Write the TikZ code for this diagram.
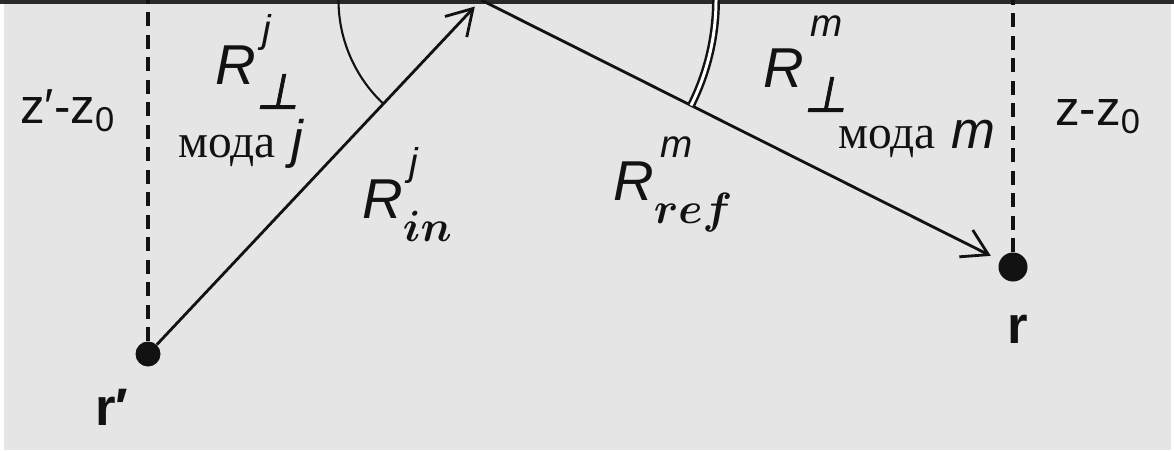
\documentclass[tikz,border=0pt]{standalone}
\usepackage{amsmath}
\usepackage{fontspec}
\setmainfont{Liberation Sans}
\newfontfamily\cyrfont{Liberation Serif}
\newfontfamily\perpfont[FakeSlant=0.2, FakeBold=1.6]{DejaVu Sans}
\usetikzlibrary{positioning, arrows.meta, angles, calc}

\definecolor{paper}{RGB}{229,229,229}
\definecolor{ink}{RGB}{18,18,18}

% R with a superscript mode index and a subscript
\newcommand{\Rsym}[3][0.76em]{{\fontsize{32}{36}\selectfont\itshape R\rlap{\kern0.12em\raisebox{#1}{\fontsize{22}{24}\selectfont #2}}\raisebox{-0.42em}{\fontsize{24}{26}\selectfont\upshape #3}}}
\newcommand{\perpsub}{\kern0pt{\perpfont\fontsize{28}{28}\selectfont ⊥}}
\newcommand{\moda}[1]{{\cyrfont\fontsize{27}{30}\selectfont мода}\hspace{9pt}{\fontsize{30}{32}\selectfont\itshape #1}}

\begin{document}
\begin{tikzpicture}[
  dot/.style={circle, fill=ink, inner sep=0pt, minimum size=5mm},
  ray/.style={line width=1.6pt, draw=ink, -{Straight Barb[length=5mm, width=6mm]}},
  guide/.style={line width=1.8pt, draw=ink, dash pattern=on 2.8mm off 1.7mm},
  surface/.style={line width=0.08cm, draw=ink!90},
  lbl/.style={anchor=base west, inner sep=0pt, text=ink},
  zlbl/.style={lbl, font=\fontsize{28}{30}\selectfont},
  ptlbl/.style={lbl, font=\fontsize{30}{32}\selectfont\bfseries}
]
  \useasboundingbox (0,0) rectangle (23.48,9);
  \fill[paper] (0.08,0) rectangle (23.42,9);

  % surface and reflection point
  \coordinate (P) at (9.62,9);
  \coordinate (L) at (4,9);
  \coordinate (R) at (20,9);
  \draw[surface] (0,8.96) -- (23.48,8.96);

  % source and observation points
  \node[dot] (rp) at (2.96,1.92) {};
  \node[dot, minimum size=5.8mm] (r) at (20.26,3.66) {};

  \draw[guide] (rp) -- (rp |- P);
  \draw[guide] (r) -- (r |- P);

  \draw[ray, shorten >=0.18cm] (rp) -- (P);
  \draw[ray, shorten >=0.2cm] (P) -- (r);

  % angles at the surface
  \pic[draw=ink, line width=1.2pt, angle radius=2.85cm] {angle = L--P--rp};
  \pic[draw=ink, line width=1.4pt, double=white, double distance=1.7pt, angle radius=4.7cm] {angle = r--P--R};

  % labels
  \node[zlbl] (zp) at (0.40,6.54) {z′-z\textsubscript{0}};
  \node[zlbl] (z) at (21.10,6.50) {z-z\textsubscript{0}};
  \node[lbl] (Rperpj) at (4.30,7.30) {\Rsym{j}{\perpsub}};
  \node[lbl] (modj) at (3.56,5.86) {\moda{j}};
  \node[lbl] (Rin) at (7.24,4.64) {\Rsym{j}{$\boldsymbol{in}$}};
  \node[lbl] (Rref) at (12.26,5.00) {\Rsym{m}{$\boldsymbol{ref}$}};
  \node[lbl] (Rperpm) at (15.26,7.24) {\Rsym[0.92em]{m}{\perpsub}};
  \node[lbl] (modm) at (16.76,6.04) {\moda{m}};
  \node[ptlbl] (rplbl) at (1.90,0.50) {r′};
  \node[ptlbl] (rlbl) at (20.14,2.14) {r};
\end{tikzpicture}
\end{document}
